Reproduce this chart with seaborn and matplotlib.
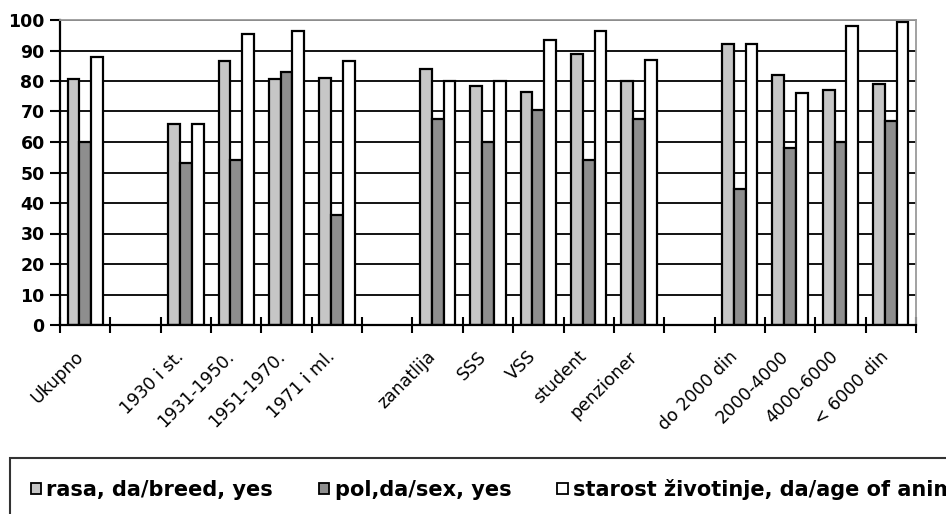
import matplotlib
matplotlib.use("Agg")
import matplotlib.pyplot as plt
import matplotlib.transforms as mtransforms
from matplotlib.patches import Patch
import numpy as np
import pandas as pd
import seaborn as sns

# x slots (blank names keep the gaps between groups)
categories = [
    "Ukupno", " ", "1930 i st.", "1931-1950.", "1951-1970.", "1971 i ml.", "  ",
    "zanatlija", "SSS", "VSS", "student", "penzioner", "   ",
    "do 2000 din", "2000-4000", "4000-6000", "< 6000 din",
]
rasa = [80.5, None, 66, 86.5, 80.5, 81, None, 84, 78.5, 76.5, 89, 80, None, 92, 82, 77, 79]
pol = [60, None, 53, 54, 83, 36, None, 67.5, 60, 70.5, 54, 67.5, None, 44.5, 58, 60, 67]
starost = [88, None, 66, 95.5, 96.5, 86.5, None, 80, 80, 93.5, 96.5, 87, None, 92, 76, 98, 99.5]

series_names = [
    "rasa, da/breed, yes",
    "pol,da/sex, yes",
    "starost životinje, da/age of animal",
]
series_colors = ["#c6c6c6", "#8e8e8e", "#ffffff"]
y_ticks = [0, 10, 20, 30, 40, 50, 60, 70, 80, 90, 100]

rows = []
for name, vals in zip(series_names, [rasa, pol, starost]):
    for cat, v in zip(categories, vals):
        if v is not None:
            rows.append({"kategorija": cat, "serija": name, "procenat": v})
df = pd.DataFrame(rows)

fig = plt.figure(figsize=(9.46, 5.14), dpi=100)
ax = fig.add_axes([60 / 946, 1 - 325 / 514, 856 / 946, 305 / 514])

sns.barplot(
    data=df,
    x="kategorija",
    y="procenat",
    hue="serija",
    order=categories,
    hue_order=series_names,
    palette=series_colors,
    width=0.7,
    edgecolor="black",
    linewidth=1.6,
    saturation=1,
    legend=False,
    ax=ax,
)

ax.set_xlim(-0.5, len(categories) - 0.5)
ax.set_ylim(0, 100)
ax.set_yticks(y_ticks)
ax.set_yticklabels([str(t) for t in y_ticks], fontsize=12.5, weight="bold")
ax.set_xlabel("")
ax.set_ylabel("")

# gridlines behind the bars
ax.set_axisbelow(True)
ax.yaxis.grid(True, color="black", linewidth=1.3)
ax.xaxis.grid(False)

# category labels in the middle, tick marks on the boundaries
ax.set_xticks(range(len(categories)))
ax.set_xticklabels(categories, fontsize=12.5, rotation=45, ha="right",
                   va="top", rotation_mode="anchor")
ax.set_xticks(np.arange(-0.5, len(categories), 1), minor=True)
ax.tick_params(axis="x", which="major", length=0, pad=14)
ax.tick_params(axis="x", which="minor", length=12, width=1.5,
               direction="inout", color="black")
ax.tick_params(axis="y", length=7, width=1.5, direction="out", pad=4)

# nudge the slanted labels a bit left (after tick_params, which resets transforms)
shift = mtransforms.ScaledTranslation(-11 / 100, -3 / 100, fig.dpi_scale_trans)
for lbl in ax.get_xticklabels():
    lbl.set_transform(lbl.get_transform() + shift)

for side in ["left", "bottom"]:
    ax.spines[side].set_color("black")
    ax.spines[side].set_linewidth(1.6)
for side in ["top", "right"]:
    ax.spines[side].set_color("#9a9a9a")
    ax.spines[side].set_linestyle((0, (1, 1)))
    ax.spines[side].set_linewidth(1.3)

handles = [Patch(facecolor=c, edgecolor="black", linewidth=1.3) for c in series_colors]
leg = fig.legend(
    handles,
    series_names,
    loc="upper left",
    bbox_to_anchor=(10 / 946, 1 - 458 / 514),
    ncol=3,
    frameon=True,
    fancybox=False,
    borderaxespad=0,
    borderpad=1.0,
    handlelength=0.5,
    handleheight=0.5,
    handletextpad=0.25,
    columnspacing=2.2,
    prop={"size": 15, "weight": "bold"},
)
leg.get_frame().set_edgecolor("black")
leg.get_frame().set_linewidth(1.5)

fig.savefig("out.png", dpi=100)
